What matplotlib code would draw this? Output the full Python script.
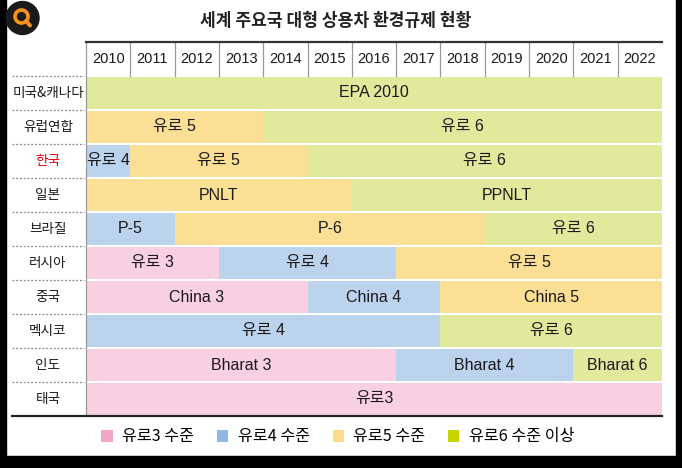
import matplotlib
matplotlib.use("Agg")
from matplotlib import pyplot as plt
from matplotlib.patches import Rectangle, Circle, Patch
import numpy as np

# 국가 (행)
countries = ['미국&캐나다', '유럽연합', '한국', '일본', '브라질',
             '러시아', '중국', '멕시코', '인도', '태국']
years = list(range(2010, 2023))

# 규제 구간: 행 번호, 시작 연도, 끝 연도, 표기, 수준
seg_row = [0, 1, 1, 2, 2, 2, 3, 3, 4, 4, 4, 5, 5, 5, 6, 6, 6, 7, 7, 8, 8, 8, 9]
seg_start = [2010, 2010, 2014, 2010, 2011, 2015, 2010, 2016, 2010, 2012, 2019,
             2010, 2013, 2017, 2010, 2015, 2018, 2010, 2018, 2010, 2017, 2021, 2010]
seg_end = [2022, 2013, 2022, 2010, 2014, 2022, 2015, 2022, 2011, 2018, 2022,
           2012, 2016, 2022, 2014, 2017, 2022, 2017, 2022, 2016, 2020, 2022, 2022]
seg_label = ['EPA 2010', '유로 5', '유로 6', '유로 4', '유로 5', '유로 6',
             'PNLT', 'PPNLT', 'P-5', 'P-6', '유로 6', '유로 3', '유로 4', '유로 5',
             'China 3', 'China 4', 'China 5', '유로 4', '유로 6',
             'Bharat 3', 'Bharat 4', 'Bharat 6', '유로3']
seg_level = [6, 5, 6, 4, 5, 6, 5, 6, 4, 5, 6, 3, 4, 5, 3, 4, 5, 4, 6, 3, 4, 6, 3]

legend_levels = [3, 4, 5, 6]
legend_labels = ['유로3 수준', '유로4 수준', '유로5 수준', '유로6 수준 이상']

#Colours
fill_col = {3: '#f8d0e1', 4: '#bcd3ee', 5: '#fbdf95', 6: '#e1e99d'}
mark_col = {3: '#f2a6c6', 4: '#8fb8e3', 5: '#fcdb8b', 6: '#c6d400'}

KR = ['Liberation Sans', 'Noto Sans CJK KR', 'DejaVu Sans']
KR_ONLY = ['Noto Sans CJK KR', 'DejaVu Sans']
NARROW = ['Liberation Sans Narrow', 'Liberation Sans', 'DejaVu Sans']

W, H = 682, 468
fig = plt.figure(figsize=(W / 100, H / 100), dpi=100, facecolor='white')

#Background frame + icon (pixel coords)
bg = fig.add_axes([0, 0, 1, 1])
bg.set_xlim(0, W)
bg.set_ylim(H, 0)
bg.axis('off')
bg.add_patch(Rectangle((0, 0), 6, H, color='black'))
bg.add_patch(Rectangle((676, 0), 6, H, color='black'))
bg.add_patch(Rectangle((0, 456), W, 12, color='black'))
bg.add_patch(Circle((22.5, 18), 16.5, color='#1a1a1a'))
bg.add_patch(Circle((21.5, 16.5), 6.5, fill=False, ec='#f7941d', lw=2.6))
bg.plot([26, 30], [21, 25.5], color='#f7941d', lw=2.8, solid_capstyle='round')

bg.text(336, 21, '세계 주요국 대형 상용차 환경규제 현황', ha='center', va='center',
        fontsize=12.3, family=KR_ONLY, weight='bold', color='#222222')

#Table axes
x0, x1, y0, y1 = 86, 662, 42, 416
ax = fig.add_axes([x0 / W, 1 - y1 / H, (x1 - x0) / W, (y1 - y0) / H])
ax.set_xlim(2010, 2023)
ax.set_ylim(len(countries) - 0.5, -1.5)
ax.axis('off')

for r, s, e, lab, lv in zip(seg_row, seg_start, seg_end, seg_label, seg_level):
    ax.barh(r, e - s + 1, left=s, height=0.92, color=fill_col[lv], lw=0)
    ax.text((s + e + 1) / 2, r, lab, ha='center', va='center',
            fontsize=11.5, family=KR, color='#1a1a1a')

# header
for yr in years:
    ax.text(yr + 0.5, -1, str(yr), ha='center', va='center',
            fontsize=10.5, family=NARROW, color='#1a1a1a')
for yr in years[1:]:
    ax.plot([yr, yr], [-1.5, -0.5], color='#999999', lw=0.9)
ax.plot([2010, 2010], [-1.5, len(countries) - 0.5], color='#999999', lw=0.9,
        clip_on=False)
ax.plot([2010, 2023], [-1.5, -1.5], color='#333333', lw=1.6, clip_on=False)

# row labels on the left
span = x1 - x0
for i, c in enumerate(countries):
    ax.text((48 - x0) / span * 13 + 2010, i, c, ha='center', va='center',
            fontsize=9.8, family=KR_ONLY,
            color='#e60012' if c == '한국' else '#1a1a1a', clip_on=False)
    ax.axhline(i - 0.5, xmin=(12 - x0) / span, xmax=(84 - x0) / span,
               color='#888888', lw=0.9, ls=(0, (1.5, 1.5)), clip_on=False)
ax.axhline(len(countries) - 0.5, xmin=(12 - x0) / span, xmax=1,
           color='#222222', lw=1.6, clip_on=False)

#Legend
handles = [Patch(facecolor=mark_col[lv], edgecolor='none') for lv in legend_levels]
fig.legend(handles, legend_labels, loc='center', bbox_to_anchor=(338 / W, 1 - 437 / H),
           ncol=4, frameon=False, handlelength=0.7, handleheight=0.7,
           handletextpad=0.6, columnspacing=1.4,
           prop={'family': KR_ONLY, 'size': 11.6})

fig.savefig('out.png', dpi=100, facecolor='white')
